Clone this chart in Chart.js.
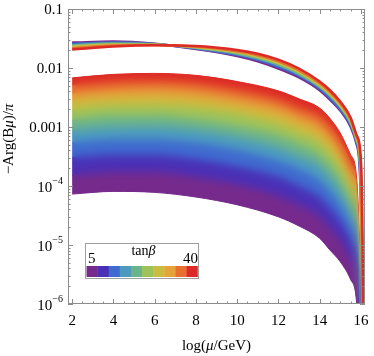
<!DOCTYPE html>
<html>
<head>
<meta charset="utf-8">
<script src="https://cdn.jsdelivr.net/npm/chart.js@4.4.1/dist/chart.umd.min.js"></script>
<style>
  html, body { margin: 0; padding: 0; background: #fff; }
</style>
</head>
<body>
<canvas id="chart" width="374" height="356"></canvas>
<script>
// lower family of curves: -Arg(Bmu)/pi vs log(mu/GeV), one curve per tanb edge
const muLow = [2, 4, 6, 8, 10, 12, 13, 14, 14.5, 15, 15.5, 15.8, 16, 16.1];
const tanbLow = [5, 8.5, 12, 15.5, 19, 22.5, 26, 29.5, 33, 36.5, 40];
const argLow5    = [7.3e-5, 8.1e-5, 7.8e-5, 6.5e-5, 4.8e-5, 3.0e-5, 2.1e-5, 1.3e-5, 8.2e-6, 5.2e-6, 2.6e-6, 1.0e-6, 2.4e-8, 1e-8];
const argLow8p5  = [1.5e-4, 1.7e-4, 1.7e-4, 1.4e-4, 1.05e-4, 6.7e-5, 4.7e-5, 3.0e-5, 1.9e-5, 1.2e-5, 5.7e-6, 2.2e-6, 4.4e-8, 1e-8];
const argLow12   = [3.0e-4, 3.3e-4, 3.3e-4, 2.8e-4, 2.1e-4, 1.4e-4, 9.8e-5, 6.3e-5, 4.1e-5, 2.5e-5, 1.2e-5, 4.5e-6, 7.9e-8, 1e-8];
const argLow15p5 = [5.4e-4, 6.0e-4, 6.0e-4, 5.3e-4, 4.0e-4, 2.6e-4, 1.9e-4, 1.2e-4, 7.9e-5, 4.7e-5, 2.2e-5, 8.4e-6, 1.3e-7, 1e-8];
const argLow19   = [8.6e-4, 9.6e-4, 9.7e-4, 8.6e-4, 6.5e-4, 4.3e-4, 3.1e-4, 2.1e-4, 1.35e-4, 7.9e-5, 3.6e-5, 1.4e-5, 1.9e-7, 1e-8];
const argLow22p5 = [1.3e-3, 1.5e-3, 1.5e-3, 1.3e-3, 1.0e-3, 6.9e-4, 5.0e-4, 3.3e-4, 2.2e-4, 1.3e-4, 5.7e-5, 2.2e-5, 2.9e-7, 1e-8];
const argLow26   = [1.9e-3, 2.2e-3, 2.2e-3, 2.0e-3, 1.6e-3, 1.05e-3, 7.6e-4, 5.2e-4, 3.4e-4, 2.0e-4, 8.7e-5, 3.3e-5, 3.9e-7, 1e-8];
const argLow29p5 = [2.7e-3, 3.0e-3, 3.1e-3, 2.8e-3, 2.2e-3, 1.5e-3, 1.07e-3, 7.3e-4, 4.9e-4, 2.8e-4, 1.2e-4, 4.6e-5, 5.2e-7, 1e-8];
const argLow33   = [3.6e-3, 4.1e-3, 4.3e-3, 3.9e-3, 3.0e-3, 2.1e-3, 1.5e-3, 1.04e-3, 7.0e-4, 4.0e-4, 1.7e-4, 6.5e-5, 6.8e-7, 1e-8];
const argLow36p5 = [5.0e-3, 5.7e-3, 5.9e-3, 5.4e-3, 4.2e-3, 2.9e-3, 2.1e-3, 1.5e-3, 1.0e-3, 5.6e-4, 2.4e-4, 9.0e-5, 8.9e-7, 1e-8];
const argLow40   = [6.8e-3, 7.8e-3, 8.1e-3, 7.5e-3, 5.9e-3, 4.1e-3, 3.0e-3, 2.1e-3, 1.4e-3, 7.9e-4, 3.4e-4, 1.3e-4, 1.2e-6, 1e-8];
const lowCurves = [argLow5, argLow8p5, argLow12, argLow15p5, argLow19, argLow22p5, argLow26, argLow29p5, argLow33, argLow36p5, argLow40];

// upper (thin) family
const muHigh = [2, 4, 6, 8, 10, 11, 12, 13, 14, 14.5, 15, 15.5, 15.8, 16, 16.1, 16.15];
const tanbHigh = [5, 12, 19, 26, 33, 40];
const argHigh5  = [0.0270, 0.0281, 0.0258, 0.0210, 0.0160, 0.0130, 0.0098, 0.0069, 0.0042, 0.0029, 0.0019, 1.02e-3, 5.0e-4, 5.8e-5, 1.0e-9, 1e-9];
const argHigh12 = [0.0256, 0.0270, 0.0255, 0.0215, 0.0167, 0.0138, 0.0105, 0.0074, 0.0045, 0.0031, 0.0020, 1.09e-3, 5.4e-4, 7.9e-5, 5.0e-9, 1e-9];
const argHigh19 = [0.0242, 0.0260, 0.0252, 0.0220, 0.0175, 0.0146, 0.0113, 0.0079, 0.0048, 0.0034, 0.0022, 1.17e-3, 5.8e-4, 1.08e-4, 2.4e-8, 1e-9];
const argHigh26 = [0.0230, 0.0250, 0.0248, 0.0225, 0.0184, 0.0155, 0.0121, 0.0085, 0.0051, 0.0036, 0.0023, 1.26e-3, 6.2e-4, 1.48e-4, 1.1e-7, 1e-9];
const argHigh33 = [0.0217, 0.0241, 0.0245, 0.0231, 0.0193, 0.0165, 0.0130, 0.0091, 0.0055, 0.0039, 0.0025, 1.35e-3, 6.7e-4, 2.0e-4, 5.4e-7, 1e-9];
const argHigh40 = [0.0206, 0.0231, 0.0242, 0.0236, 0.0202, 0.0175, 0.0139, 0.0098, 0.0059, 0.0042, 0.0027, 1.45e-3, 7.2e-4, 2.8e-4, 2.6e-6, 1e-9];
const highCurves = [argHigh5, argHigh12, argHigh19, argHigh26, argHigh33, argHigh40];

// colour bar (tanb 5 -> 40)
const legendColors = ['#762a8c', '#4a30b6', '#3f6bd0', '#4c9abf', '#6bb38b', '#9bc25b', '#c8bd3f', '#e4a43a', '#e96f30', '#dc2a26'];
const legendLabels = ['5', '40'];

const xTicks = [2, 4, 6, 8, 10, 12, 14, 16];
const yTicks = [1e-6, 1e-5, 1e-4, 1e-3, 1e-2, 1e-1];
const yTickLabels = [['10', '−6'], ['10', '−5'], ['10', '−4'], ['0.001', ''], ['0.01', ''], ['0.1', '']];

const SERIF = '"Liberation Serif", "DejaVu Serif", serif';

function colorFor(t) {
    return legendColors[Math.min(9, Math.floor((t - 5) / 3.5))];
}

const datasets = [];
lowCurves.forEach((curve, i) => {
    const col = legendColors[Math.max(0, i - 1)];
    datasets.push({
        data: muLow.map((m, j) => ({ x: m, y: curve[j] })),
        borderColor: col,
        backgroundColor: col,
        borderWidth: 1,
        fill: i === 0 ? false : '-1',
        pointRadius: 0,
        cubicInterpolationMode: 'monotone',
        order: 20
    });
});
highCurves.forEach((curve, k) => {
    datasets.push({
        data: muHigh.map((m, j) => ({ x: m, y: curve[j] })),
        borderColor: colorFor(tanbHigh[k]),
        borderWidth: 2.5,
        fill: false,
        pointRadius: 0,
        cubicInterpolationMode: 'monotone',
        order: 6 - k
    });
});

// italic pieces of text drawn one after another
function drawRun(ctx, parts, cx, baseline, size) {
    let total = 0;
    parts.forEach(p => {
        ctx.font = (p[1] ? 'italic ' : '') + size + 'px ' + SERIF;
        total += ctx.measureText(p[0]).width;
    });
    let x = cx - total / 2;
    ctx.textAlign = 'left';
    parts.forEach(p => {
        ctx.font = (p[1] ? 'italic ' : '') + size + 'px ' + SERIF;
        ctx.fillText(p[0], x, baseline);
        x += ctx.measureText(p[0]).width;
    });
}

// soften the colour steps inside the lower band so it reads as a continuous gradient
const smoothPlugin = {
    id: 'smooth',
    afterDatasetDraw(chart, args) {
        if (args.index !== 0) return;
        const { ctx, chartArea: a } = chart;
        const top = chart.getDatasetMeta(lowCurves.length - 1).dataset;
        const bot = chart.getDatasetMeta(0).dataset;
        const snap = document.createElement('canvas');
        snap.width = chart.canvas.width;
        snap.height = chart.canvas.height;
        snap.getContext('2d').drawImage(chart.canvas, 0, 0);

        ctx.save();
        ctx.beginPath();
        ctx.rect(a.left, a.top, a.right - a.left, a.bottom - a.top);
        ctx.clip();
        let p0 = top.points[0], p1 = top.points[top.points.length - 1];
        ctx.beginPath();
        top.path(ctx);
        ctx.lineTo(p1.x, 3000);
        ctx.lineTo(p0.x, 3000);
        ctx.closePath();
        ctx.clip();
        p0 = bot.points[0]; p1 = bot.points[bot.points.length - 1];
        ctx.beginPath();
        bot.path(ctx);
        ctx.lineTo(p1.x, -3000);
        ctx.lineTo(p0.x, -3000);
        ctx.closePath();
        ctx.clip();
        ctx.setTransform(1, 0, 0, 1, 0, 0);
        ctx.filter = 'blur(4px)';
        ctx.drawImage(snap, 0, 0);
        ctx.restore();
    }
};

const framePlugin = {
    id: 'frame',
    afterDraw(chart) {
        const { ctx, chartArea: a, scales: { x, y } } = chart;
        ctx.save();
        ctx.strokeStyle = '#8c8c8c';
        ctx.lineWidth = 1;
        ctx.strokeRect(a.left + 0.5, a.top + 0.5, a.right - a.left - 1, a.bottom - a.top - 1);

        ctx.beginPath();
        // x ticks, major + minor, on bottom and top
        for (let v = 2; v <= 16; v += 0.5) {
            const px = Math.round(x.getPixelForValue(v)) + 0.5;
            const len = xTicks.includes(v) ? 5 : 2.5;
            ctx.moveTo(px, a.bottom); ctx.lineTo(px, a.bottom - len);
            ctx.moveTo(px, a.top); ctx.lineTo(px, a.top + len);
        }
        // y ticks (log), left and right
        for (let n = -6; n <= -1; n++) {
            for (let k = 1; k <= 9; k++) {
                const v = k * Math.pow(10, n);
                if (v > 0.1000001) break;
                const py = Math.round(y.getPixelForValue(v)) + 0.5;
                const len = k === 1 ? 5 : 2.5;
                ctx.moveTo(a.left, py); ctx.lineTo(a.left + len, py);
                ctx.moveTo(a.right, py); ctx.lineTo(a.right - len, py);
            }
        }
        ctx.stroke();

        // tick labels
        ctx.fillStyle = '#000';
        ctx.textBaseline = 'alphabetic';
        ctx.font = '15px ' + SERIF;
        ctx.textAlign = 'center';
        xTicks.forEach(v => ctx.fillText(String(v), x.getPixelForValue(v), a.bottom + 21));

        yTicks.forEach((v, i) => {
            const py = y.getPixelForValue(v);
            const [base, sup] = yTickLabels[i];
            const right = 63;
            ctx.textAlign = 'right';
            if (sup) {
                ctx.font = '10px ' + SERIF;
                const w = ctx.measureText(sup).width;
                ctx.fillText(sup, right, py - 2);
                ctx.font = '15px ' + SERIF;
                ctx.fillText(base, right - w, py + 6);
            } else {
                ctx.font = '15px ' + SERIF;
                ctx.fillText(base, right, py + 5);
            }
        });

        // axis titles
        drawRun(ctx, [['log(', false], ['μ', true], ['/GeV)', false]], (a.left + a.right) / 2, 350, 15);
        ctx.save();
        ctx.translate(13, 139);
        ctx.rotate(-Math.PI / 2);
        drawRun(ctx, [['−Arg(B', false], ['μ', true], [')/', false], ['π', true]], 0, 0, 15);
        ctx.restore();

        // colour bar legend
        const bx = 85, by = 243, bw = 113, bh = 35;
        ctx.fillStyle = '#fff';
        ctx.fillRect(bx, by, bw, bh);
        ctx.strokeStyle = '#a0a0a0';
        ctx.strokeRect(bx + 0.5, by + 0.5, bw, bh);
        const sw = (bw - 2) / legendColors.length;
        legendColors.forEach((c, i) => {
            ctx.fillStyle = c;
            ctx.fillRect(bx + 1.5 + i * sw, by + 23, sw + 0.3, 11);
        });
        ctx.fillStyle = '#000';
        ctx.font = '15px ' + SERIF;
        ctx.textAlign = 'left';
        ctx.fillText(legendLabels[0], bx + 3, by + 20);
        ctx.textAlign = 'right';
        ctx.fillText(legendLabels[1], bx + bw, by + 20);
        drawRun(ctx, [['tan', false], ['β', true]], bx + bw / 2 + 2, by + 12, 14);
        ctx.restore();
    }
};

new Chart(document.getElementById('chart').getContext('2d'), {
    type: 'line',
    data: { datasets: datasets },
    options: {
        responsive: false,
        animation: false,
        layout: { padding: { top: 9, right: 9, left: 0, bottom: 0 } },
        scales: {
            x: {
                type: 'linear',
                min: 1.8,
                max: 16.2,
                ticks: { display: false },
                grid: { display: false },
                border: { display: false },
                afterFit: s => { s.height = 52; }
            },
            y: {
                type: 'logarithmic',
                min: 1e-6,
                max: 0.1,
                ticks: { display: false },
                grid: { display: false },
                border: { display: false },
                afterFit: s => { s.width = 68; }
            }
        },
        plugins: {
            legend: { display: false },
            tooltip: { enabled: false }
        }
    },
    plugins: [smoothPlugin, framePlugin]
});
</script>
</body>
</html>
